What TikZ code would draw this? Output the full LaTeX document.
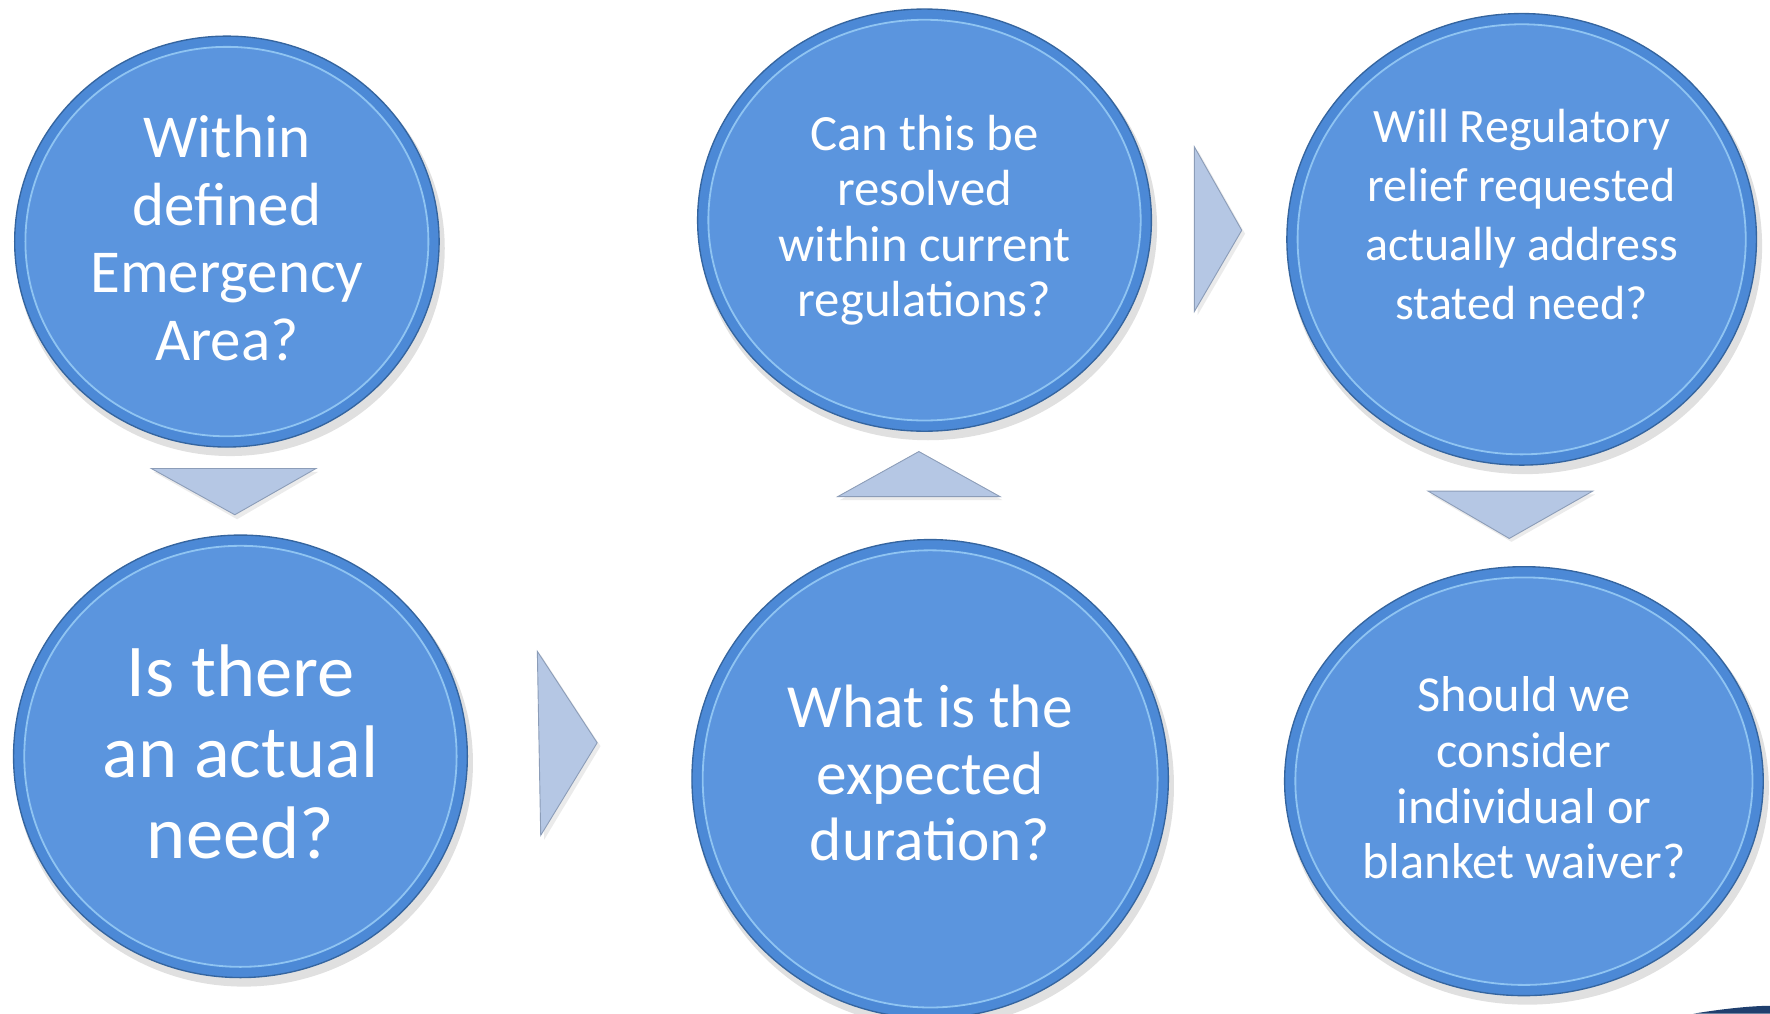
\documentclass[tikz,border=0pt]{standalone}
\usepackage{fontspec}
\setmainfont{Carlito}
\usetikzlibrary{shapes.geometric}
\definecolor{mainblue}{HTML}{5B95DE}
\definecolor{rimblue}{HTML}{4C89D6}
\definecolor{rimdark}{HTML}{35659F}
\definecolor{hilite}{HTML}{8FC4F2}
\definecolor{trifill}{HTML}{B5C7E4}
\definecolor{triedge}{HTML}{8C9DB8}
\definecolor{navy}{HTML}{1F3F6E}
\tikzset{
  label text/.style={inner sep=0pt, text=white, align=center},
  rim/.style={fill=rimblue, draw=rimdark, line width=1.2pt},
  ring/.style={draw=hilite, line width=1.6pt},
  shade/.style={fill=black, opacity=0.12},
  chevron/.style={fill=trifill, draw=triedge, line width=0.8pt, line join=miter},
  chevshade/.style={fill=black, opacity=0.08}
}
\newcommand{\bubbleback}[3]{% center, rx, ry
  \fill[shade] ([shift={(3,6)}]#1) ellipse [x radius=#2pt+2pt, y radius=#3pt+2pt];
  \filldraw[rim] (#1) ellipse [x radius=#2pt, y radius=#3pt];
  \fill[mainblue] (#1) ellipse [x radius=#2pt-10pt, y radius=#3pt-10pt];
  \draw[ring] (#1) ellipse [x radius=#2pt-9.5pt, y radius=#3pt-9.5pt];
}
\begin{document}
\begin{tikzpicture}[x=1pt, y=-1pt]
\useasboundingbox (0,0) rectangle (1568,898);
\clip (0,0) rectangle (1568,898);
\fill[white] (0,0) rectangle (1568,898);

% centres
\coordinate (c1) at (201,214);
\coordinate (c2) at (213,670);
\coordinate (c3) at (819,195);
\coordinate (c4) at (824,690);
\coordinate (c5) at (1348,212);
\coordinate (c6) at (1350,692);

% partial dark shape at bottom right
\fill[navy] (1500,898) .. controls (1530,893) and (1555,891) .. (1568,891) -- (1568,898) -- cycle;

\bubbleback{c1}{188}{182}
\bubbleback{c2}{201}{196}
\bubbleback{c3}{201}{187}
\bubbleback{c4}{211}{212}
\bubbleback{c5}{208}{200}
\bubbleback{c6}{212}{190}

\node[label text, font=\fontsize{54}{60}\selectfont] (n1) at ([yshift=3]c1)
  {Within\\defined\\Emergency\\Area?};
\node[label text, font=\fontsize{66}{72}\selectfont] (n2) at ([yshift=4]c2)
  {Is there\\an actual\\need?};
\node[label text, font=\fontsize{45}{49}\selectfont] (n3) at (c3)
  {Can this be\\resolved\\within current\\regulations?};
\node[label text, font=\fontsize{54.3}{59}\selectfont] (n4) at ([yshift=5]c4)
  {What is the\\expected\\duration?};
\node[label text, font=\fontsize{42.5}{52}\selectfont] (n5) at ([yshift=22]c5)
  {Will Regulatory\\relief requested\\actually address\\stated need?};
\node[label text, font=\fontsize{44.7}{49.5}\selectfont] (n6) at ([yshift=3]c6)
  {Should we\\consider\\individual or\\blanket waiver?};

% chevron arrows between the bubbles
\fill[chevshade] (136,418) -- (282,418) -- (210,460) -- cycle;
\filldraw[chevron] (134,415) -- (280,415) -- (208,456) -- cycle;

\fill[chevshade] (479,580) -- (532,661) -- (482,744) -- cycle;
\filldraw[chevron] (476,577) -- (529,658) -- (479,740) -- cycle;

\fill[chevshade] (744,443) -- (888,443) -- (816,404) -- cycle;
\filldraw[chevron] (742,440) -- (886,440) -- (814,400) -- cycle;

\fill[chevshade] (1061,133) -- (1103,207) -- (1061,279) -- cycle;
\filldraw[chevron] (1058,130) -- (1100,204) -- (1058,276) -- cycle;

\fill[chevshade] (1267,438) -- (1413,438) -- (1339,480) -- cycle;
\filldraw[chevron] (1265,435) -- (1411,435) -- (1337,477) -- cycle;
\end{tikzpicture}
\end{document}
